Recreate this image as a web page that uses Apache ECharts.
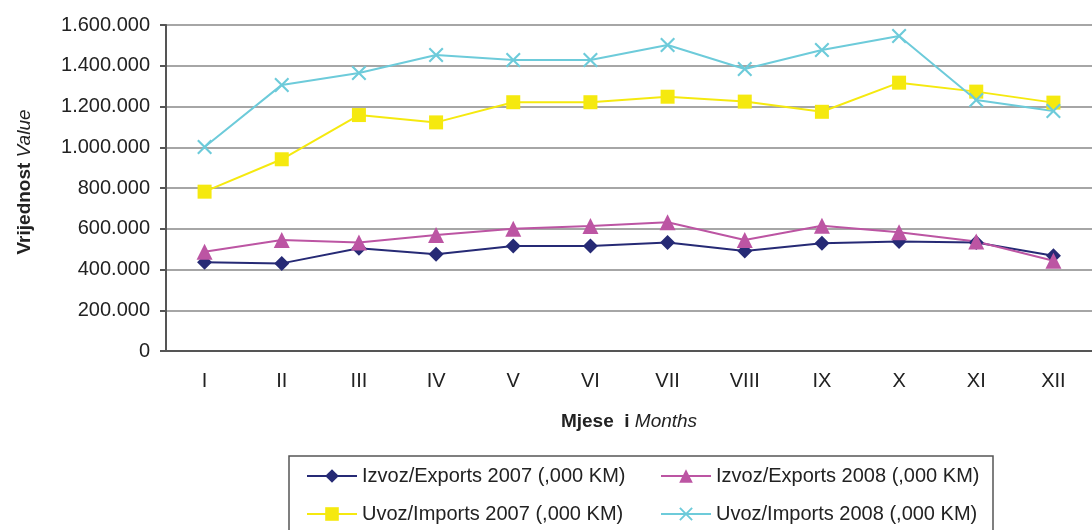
<!DOCTYPE html>
<html>
<head>
<meta charset="utf-8">
<script src="https://cdn.jsdelivr.net/npm/echarts@6/dist/echarts.min.js"></script>
<style>
  html, body { margin: 0; padding: 0; background: #fff; }
  #chart { width: 1092px; height: 530px; }
</style>
</head>
<body>
<div id="chart"></div>
<script>
// months (roman numerals) and values in ,000 KM
const months = ['I', 'II', 'III', 'IV', 'V', 'VI', 'VII', 'VIII', 'IX', 'X', 'XI', 'XII']
const exports2007 = [435000, 430000, 504000, 475000, 515000, 515000, 533000, 491000, 529000, 537000, 532000, 468000]
const exports2008 = [487000, 545000, 533000, 569000, 600000, 613000, 632000, 545000, 615000, 583000, 537000, 443000]
const imports2007 = [782000, 941000, 1158000, 1122000, 1221000, 1221000, 1248000, 1224000, 1174000, 1317000, 1273000, 1219000]
const imports2008 = [1001000, 1306000, 1364000, 1453000, 1428000, 1428000, 1502000, 1384000, 1477000, 1546000, 1232000, 1178000]

const names = [
  'Izvoz/Exports 2007 (,000 KM)',
  'Izvoz/Exports 2008 (,000 KM)',
  'Uvoz/Imports 2007 (,000 KM)',
  'Uvoz/Imports 2008 (,000 KM)',
]

const font = 'Liberation Sans, Arial, sans-serif'
const crossPath = 'path://M0,1L1,0L5,4L9,0L10,1L6,5L10,9L9,10L5,6L1,10L0,9L4,5Z'

function fmt(v) {
  return String(v).replace(/\B(?=(\d{3})+(?!\d))/g, '.')
}

function lineSeries(name, data, color, symbol, size) {
  return {
    name,
    type: 'line',
    data,
    symbol,
    symbolSize: size,
    showAllSymbol: true,
    lineStyle: { color, width: 2 },
    itemStyle: { color },
    emphasis: { disabled: true },
  }
}

const legendBase = {
  orient: 'vertical',
  top: 466,
  padding: 0,
  itemWidth: 50,
  itemHeight: 17,
  itemGap: 18,
  textStyle: { fontSize: 20, color: '#222', lineHeight: 20 },
}

const chart = echarts.init(document.getElementById('chart'))

chart.setOption({
  animation: false,
  textStyle: { fontFamily: font },
  grid: { left: 166, right: -3, top: 25, bottom: 179, containLabel: false },
  xAxis: {
    type: 'category',
    data: months,
    boundaryGap: true,
    axisLine: { lineStyle: { color: '#555', width: 2 } },
    axisTick: { show: false },
    axisLabel: { color: '#222', fontSize: 20, margin: 20 },
    name: '{b|Mjese  i }{i|Months}',
    nameLocation: 'middle',
    nameGap: 61,
    nameTextStyle: {
      rich: {
        b: { fontSize: 19, fontWeight: 'bold', color: '#222', fontFamily: font },
        i: { fontSize: 19, fontStyle: 'italic', color: '#222', fontFamily: font },
      },
    },
  },
  yAxis: {
    type: 'value',
    min: 0,
    max: 1600000,
    interval: 200000,
    axisLine: { show: true, lineStyle: { color: '#555', width: 2 } },
    axisTick: { show: true, length: 6, lineStyle: { color: '#555', width: 2 } },
    axisLabel: { color: '#222', fontSize: 20, margin: 16, formatter: fmt },
    splitLine: { lineStyle: { color: '#888', width: 1.5 } },
    name: '{b|Vrijednost }{i|Value}',
    nameLocation: 'middle',
    nameGap: 132,
    nameRotate: 90,
    nameTextStyle: {
      padding: [0, 0, 0, 12],
      rich: {
        b: { fontSize: 19, fontWeight: 'bold', color: '#222', fontFamily: font },
        i: { fontSize: 19, fontStyle: 'italic', color: '#222', fontFamily: font },
      },
    },
  },
  legend: [
    Object.assign({ data: [names[0], names[2]], left: 306 }, legendBase),
    Object.assign({ data: [names[1], names[3]], left: 660 }, legendBase),
  ],
  graphic: [
    {
      type: 'rect',
      silent: true,
      shape: { x: 289, y: 456, width: 704, height: 90 },
      style: { fill: 'none', stroke: '#555', lineWidth: 1.5 },
    },
  ],
  series: [
    lineSeries(names[0], exports2007, '#262a75', 'diamond', 15),
    lineSeries(names[1], exports2008, '#bc55a3', 'triangle', 16),
    lineSeries(names[2], imports2007, '#f5e90f', 'rect', 14),
    lineSeries(names[3], imports2008, '#6dcbda', crossPath, 15),
  ],
})
</script>
</body>
</html>
